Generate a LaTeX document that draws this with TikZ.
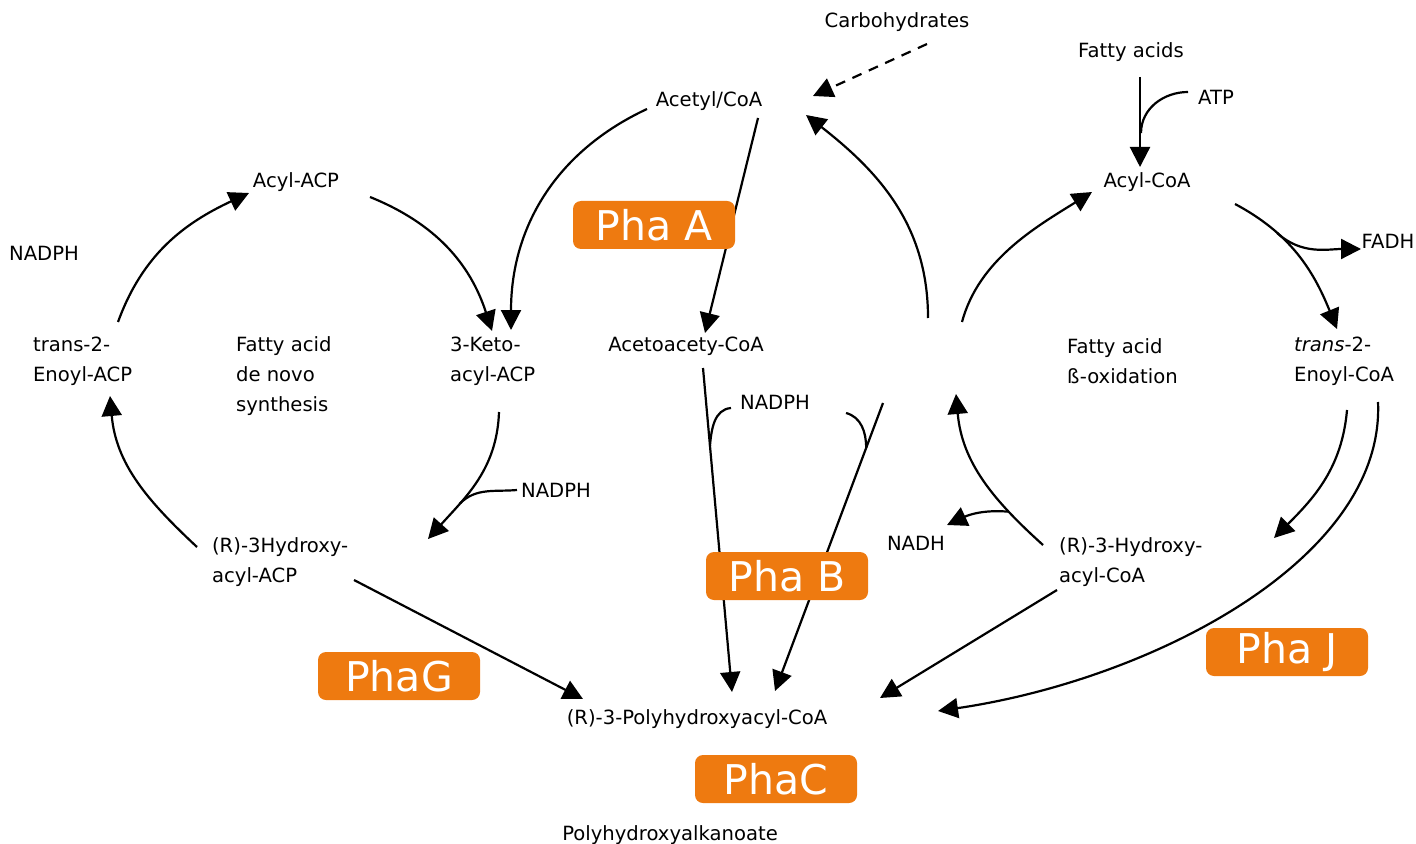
\documentclass[tikz,border=0pt]{standalone}
\usepackage{fontspec}
\setmainfont{DejaVu Sans}
\usetikzlibrary{arrows.meta}
\definecolor{phaorange}{RGB}{238,122,16}

\begin{document}
\begin{tikzpicture}[%
  x=0.5pt, y=0.5pt,
  line width=1.1pt,
  >={Triangle[length=10pt,width=10pt]},
  chem/.style = {inner sep=0pt, yshift=-1pt, font=\fontsize{9.8}{15}\selectfont},
  multi/.style = {chem, align=left, anchor=west},
  enzyme/.style = {fill=phaorange, text=white, rounded corners=4pt,
    minimum width=81pt, minimum height=24pt, inner sep=0pt,
    font=\fontsize{20.5}{24}\selectfont},
  feed/.style = {->, dash pattern=on 5pt off 4pt},
]
  \useasboundingbox (0,0) rectangle (1416,-844);

  \node[chem] (carbo) at (897,-20) {Carbohydrates};
  \node[chem] (acetyl) at (709,-99) {Acetyl/CoA};
  \node[chem] (fatty) at (1131,-50) {Fatty acids};
  \node[chem] (atp) at (1216,-95) {ATP};
  \node[chem] (acylcoa) at (1147,-180) {Acyl-CoA};
  \node[chem] (fadh) at (1388,-239) {FADH};
  \node[chem] (acylacp) at (296,-180) {Acyl-ACP};
  \node[chem] (nadphA) at (44,-251) {NADPH};
  \node[multi] (enoylacp) at (32,-359) {trans-2-\\Enoyl-ACP};
  \node[multi] (denovo) at (235,-374) {Fatty acid\\de novo\\synthesis};
  \node[multi] (keto) at (449,-359) {3-Keto-\\acyl-ACP};
  \node[chem] (acetoac) at (686,-344) {Acetoacety-CoA};
  \node[multi] (betaox) at (1066,-359) {Fatty acid\\ß-oxidation};
  \node[multi] (enoylcoa) at (1293,-359) {\textit{trans}-2-\\Enoyl-CoA};
  \node[chem] (nadphB) at (775,-400) {NADPH};
  \node[chem] (nadphC) at (556,-488) {NADPH};
  \node[multi] (hydroxyacp) at (211,-560) {(R)-3Hydroxy-\\acyl-ACP};
  \node[chem] (nadh) at (916,-541) {NADH};
  \node[multi] (hydroxycoa) at (1058,-560) {(R)-3-Hydroxy-\\acyl-CoA};
  \node[chem] (pha) at (697,-717) {(R)-3-Polyhydroxyacyl-CoA};
  \node[chem] (polymer) at (670,-833) {Polyhydroxyalkanoate};

  \coordinate (carboS) at (927,-44);
  \coordinate (acetylE) at (813,-96);
  \coordinate (acetylW) at (647,-109);
  \coordinate (acetylS) at (758,-118);
  \coordinate (acetylSE) at (806,-115);
  \coordinate (fattyS) at (1140,-77);
  \coordinate (atpW) at (1188,-92);
  \coordinate (acylcoaN) at (1140,-167);
  \coordinate (acylcoaW) at (1092,-192);
  \coordinate (acylcoaSE) at (1235,-204);
  \coordinate (fadhW) at (1361,-249);
  \coordinate (acylacpW) at (249,-193);
  \coordinate (acylacpE) at (370,-197);
  \coordinate (enoylacpN) at (118,-322);
  \coordinate (enoylacpS) at (110,-396);
  \coordinate (ketoN1) at (492,-331);
  \coordinate (ketoN2) at (511,-330);
  \coordinate (ketoS) at (499,-412);
  \coordinate (acetoacN) at (705,-333);
  \coordinate (acetoacS) at (703,-368);
  \coordinate (betaNW) at (928,-318);
  \coordinate (betaNE) at (962,-322);
  \coordinate (betaSW) at (883,-403);
  \coordinate (betaS) at (956,-394);
  \coordinate (enoylcoaN) at (1337,-329);
  \coordinate (enoylcoaS1) at (1347,-410);
  \coordinate (enoylcoaS2) at (1378,-402);
  \coordinate (nadphBW) at (731,-408);
  \coordinate (nadphBE) at (846,-413);
  \coordinate (nadphCW) at (517,-490);
  \coordinate (nadhE) at (947,-525);
  \coordinate (hydroxyacpNW) at (197,-547);
  \coordinate (hydroxyacpE) at (428,-539);
  \coordinate (hydroxyacpSE) at (354,-580);
  \coordinate (hydroxycoaNW) at (1043,-545);
  \coordinate (hydroxycoaE) at (1274,-538);
  \coordinate (hydroxycoaSW) at (1057,-590);
  \coordinate (phaNW) at (583,-699);
  \coordinate (phaN1) at (732,-692);
  \coordinate (phaN2) at (775,-691);
  \coordinate (phaE1) at (880,-698);
  \coordinate (phaE2) at (938,-711);

  \draw[feed] (carboS) -- (acetylE);
  \draw[->] (acetylW) to[out=205,in=90] (ketoN2);
  \draw[->] (acetylS) -- (acetoacN);
  \draw[->] (betaNW) to[out=90,in=-38] (acetylSE);
  \draw[->] (betaNE) to[out=75,in=212,looseness=0.9] (acylcoaW);

  \draw[->] (fattyS) -- (acylcoaN);
  \draw (atpW) to[out=180,in=90] (1141,-133);
  \draw[->] (acylcoaSE) to[out=-28,in=112] coordinate[pos=0.3] (fadhJoin) (enoylcoaN);
  \draw[->] (fadhJoin) to[out=-42,in=180] (fadhW);

  \draw[->] (acylacpE) to[out=-22,in=108] (ketoN1);
  \draw[->] (enoylacpN) to[out=70,in=205] (acylacpW);
  \draw[->] (hydroxyacpNW) to[out=137,in=-85] (enoylacpS);
  \draw[->] (ketoS) to[out=-92,in=48] coordinate[pos=0.7] (nadphCJoin) (hydroxyacpE);
  \draw (nadphCW) to[out=185,in=45] (nadphCJoin);
  \draw[->] (hydroxyacpSE) -- (phaNW);

  \draw[->] (acetoacS) -- coordinate[pos=0.24] (nadphBJoin1) (phaN1);
  \draw (nadphBW) to[out=185,in=85] (nadphBJoin1);
  \draw[->] (betaSW) -- coordinate[pos=0.156] (nadphBJoin2) (phaN2);
  \draw (nadphBE) to[out=-15,in=90] (nadphBJoin2);

  \draw[->] (hydroxycoaNW) to[out=138,in=-85] coordinate[pos=0.25] (nadhJoin) (betaS);
  \draw[->] (nadhJoin) to[out=175,in=25] (nadhE);
  \draw[->] (enoylcoaS1) to[out=-95,in=45] (hydroxycoaE);
  \draw[->] (enoylcoaS2) .. controls (1385,-560) and (1150,-680) .. (phaE2);
  \draw[->] (hydroxycoaSW) -- (phaE1);

  \node[enzyme] (phaA) at (654,-225) {Pha A};
  \node[enzyme] (phaB) at (787,-576) {Pha B};
  \node[enzyme] (phaG) at (399,-676) {PhaG};
  \node[enzyme] (phaC) at (776,-779) {PhaC};
  \node[enzyme] (phaJ) at (1287,-652) {Pha J};
\end{tikzpicture}
\end{document}
